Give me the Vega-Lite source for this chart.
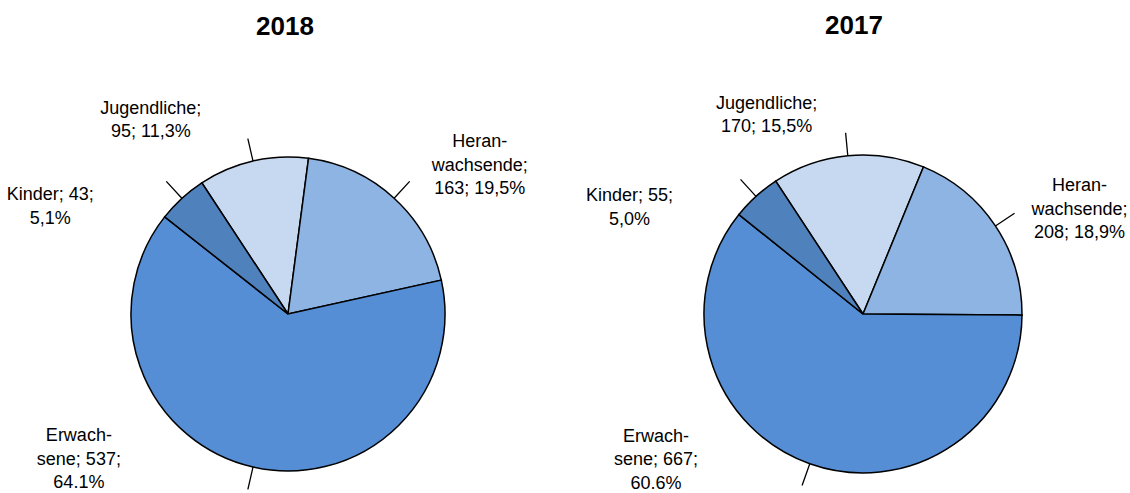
{
  "$schema": "https://vega.github.io/schema/vega-lite/v6.json",
  "background": "white",
  "padding": {"left": 0, "top": 12, "right": 0, "bottom": 0},
  "spacing": 20,
  "bounds": "flush",
  "config": {"view": {"stroke": null}},
  "datasets": {
    "d2018": [
      {"kat": "Jugendliche", "n": 95, "label": ["Jugendliche;", "95; 11,3%"]},
      {"kat": "Heranwachsende", "n": 163, "label": ["Heran-", "wachsende;", "163; 19,5%"]},
      {"kat": "Erwachsene", "n": 537, "label": ["Erwach-", "sene; 537;", "64.1%"]},
      {"kat": "Kinder", "n": 43, "label": ["Kinder; 43;", "5,1%"]}
    ],
    "d2017": [
      {"kat": "Jugendliche", "n": 170, "label": ["Jugendliche;", "170; 15,5%"]},
      {"kat": "Heranwachsende", "n": 208, "label": ["Heran-", "wachsende;", "208; 18,9%"]},
      {"kat": "Erwachsene", "n": 667, "label": ["Erwach-", "sene; 667;", "60.6%"]},
      {"kat": "Kinder", "n": 55, "label": ["Kinder; 55;", "5,0%"]}
    ]
  },
  "resolve": {"scale": {"theta": "independent"}},
  "hconcat": [
    {
      "width": 576,
      "height": 360,
      "title": {"text": "2018", "font": "Liberation Sans", "fontSize": 26, "fontWeight": "bold", "color": "#000000", "anchor": "middle", "frame": "group", "offset": 39, "baseline": "alphabetic", "dx": -3},
      "data": {"name": "d2018"},
      "transform": [
        {"stack": "n", "groupby": [], "as": ["s0", "s1"]},
        {"calculate": "(datum.s0 + datum.s1) / 2", "as": "mid"}
      ],
      "layer": [
        {
          "mark": {"type": "arc", "radius": 157, "stroke": "#000000", "strokeWidth": 1.5},
          "encoding": {
            "theta": {"field": "s0", "type": "quantitative", "stack": null, "scale": {"domain": [0, 838], "zero": true, "nice": false, "range": [-0.5812, 5.702]}},
            "theta2": {"field": "s1"},
            "color": {"field": "kat", "type": "nominal", "legend": null, "scale": {"domain": ["Jugendliche", "Heranwachsende", "Erwachsene", "Kinder"], "range": ["#C6D9F1", "#8EB4E3", "#558ED5", "#4F81BD"]}}
          }
        },
        {
          "mark": {"type": "arc", "filled": false, "innerRadius": 157, "outerRadius": 180, "stroke": "#000000", "strokeWidth": 1.3},
          "encoding": {
            "theta": {"field": "mid", "type": "quantitative", "stack": null},
            "theta2": {"field": "mid"}
          }
        },
        {
          "transform": [{"filter": "datum.kat === 'Jugendliche'"}],
          "mark": {"type": "text", "radius": 180, "dx": -97, "dy": -25, "align": "center", "baseline": "alphabetic", "font": "Liberation Sans", "fontSize": 18, "lineHeight": 23.5, "color": "#000000"},
          "encoding": {"theta": {"field": "mid", "type": "quantitative", "stack": null}, "text": {"field": "label"}}
        },
        {
          "transform": [{"filter": "datum.kat === 'Heranwachsende'"}],
          "mark": {"type": "text", "radius": 180, "dx": 70, "dy": -34, "align": "center", "baseline": "alphabetic", "font": "Liberation Sans", "fontSize": 18, "lineHeight": 23.5, "color": "#000000"},
          "encoding": {"theta": {"field": "mid", "type": "quantitative", "stack": null}, "text": {"field": "label"}}
        },
        {
          "transform": [{"filter": "datum.kat === 'Erwachsene'"}],
          "mark": {"type": "text", "radius": 180, "dx": -169, "dy": -48, "align": "center", "baseline": "alphabetic", "font": "Liberation Sans", "fontSize": 18, "lineHeight": 23.5, "color": "#000000"},
          "encoding": {"theta": {"field": "mid", "type": "quantitative", "stack": null}, "text": {"field": "label"}}
        },
        {
          "transform": [{"filter": "datum.kat === 'Kinder'"}],
          "mark": {"type": "text", "radius": 180, "dx": -116, "dy": 19, "align": "center", "baseline": "alphabetic", "font": "Liberation Sans", "fontSize": 18, "lineHeight": 23.5, "color": "#000000"},
          "encoding": {"theta": {"field": "mid", "type": "quantitative", "stack": null}, "text": {"field": "label"}}
        }
      ]
    },
    {
      "width": 534,
      "height": 360,
      "title": {"text": "2017", "font": "Liberation Sans", "fontSize": 26, "fontWeight": "bold", "color": "#000000", "anchor": "middle", "frame": "group", "offset": 35, "baseline": "alphabetic", "dx": -9},
      "data": {"name": "d2017"},
      "transform": [
        {"stack": "n", "groupby": [], "as": ["s0", "s1"]},
        {"calculate": "(datum.s0 + datum.s1) / 2", "as": "mid"}
      ],
      "layer": [
        {
          "mark": {"type": "arc", "radius": 159, "stroke": "#000000", "strokeWidth": 1.5},
          "encoding": {
            "theta": {"field": "s0", "type": "quantitative", "stack": null, "scale": {"domain": [0, 1100], "zero": true, "nice": false, "range": [-0.5812, 5.702]}},
            "theta2": {"field": "s1"},
            "color": {"field": "kat", "type": "nominal", "legend": null, "scale": {"domain": ["Jugendliche", "Heranwachsende", "Erwachsene", "Kinder"], "range": ["#C6D9F1", "#8EB4E3", "#558ED5", "#4F81BD"]}}
          }
        },
        {
          "mark": {"type": "arc", "filled": false, "innerRadius": 159, "outerRadius": 182, "stroke": "#000000", "strokeWidth": 1.3},
          "encoding": {
            "theta": {"field": "mid", "type": "quantitative", "stack": null},
            "theta2": {"field": "mid"}
          }
        },
        {
          "transform": [{"filter": "datum.kat === 'Jugendliche'"}],
          "mark": {"type": "text", "radius": 182, "dx": -79, "dy": -24, "align": "center", "baseline": "alphabetic", "font": "Liberation Sans", "fontSize": 18, "lineHeight": 23.5, "color": "#000000"},
          "encoding": {"theta": {"field": "mid", "type": "quantitative", "stack": null}, "text": {"field": "label"}}
        },
        {
          "transform": [{"filter": "datum.kat === 'Heranwachsende'"}],
          "mark": {"type": "text", "radius": 182, "dx": 65, "dy": -22, "align": "center", "baseline": "alphabetic", "font": "Liberation Sans", "fontSize": 18, "lineHeight": 23.5, "color": "#000000"},
          "encoding": {"theta": {"field": "mid", "type": "quantitative", "stack": null}, "text": {"field": "label"}}
        },
        {
          "transform": [{"filter": "datum.kat === 'Erwachsene'"}],
          "mark": {"type": "text", "radius": 182, "dx": -146, "dy": -44, "align": "center", "baseline": "alphabetic", "font": "Liberation Sans", "fontSize": 18, "lineHeight": 23.5, "color": "#000000"},
          "encoding": {"theta": {"field": "mid", "type": "quantitative", "stack": null}, "text": {"field": "label"}}
        },
        {
          "transform": [{"filter": "datum.kat === 'Kinder'"}],
          "mark": {"type": "text", "radius": 182, "dx": -111, "dy": 22, "align": "center", "baseline": "alphabetic", "font": "Liberation Sans", "fontSize": 18, "lineHeight": 23.5, "color": "#000000"},
          "encoding": {"theta": {"field": "mid", "type": "quantitative", "stack": null}, "text": {"field": "label"}}
        }
      ]
    }
  ]
}
